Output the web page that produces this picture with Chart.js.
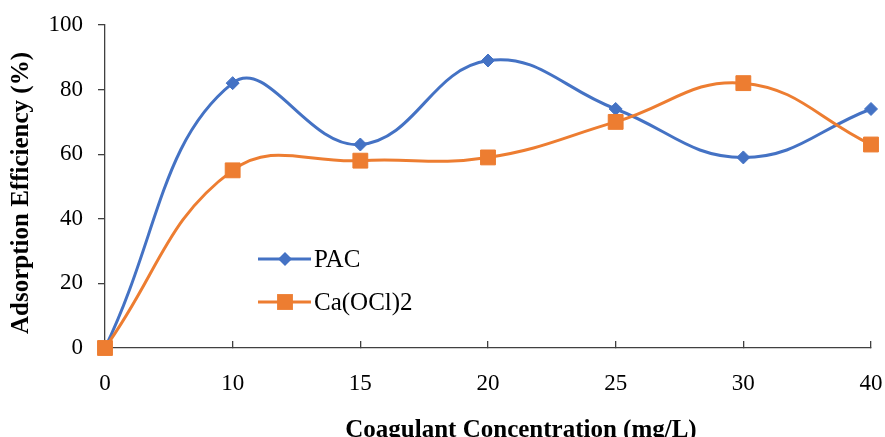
<!DOCTYPE html>
<html>
<head>
<meta charset="utf-8">
<script src="https://cdn.jsdelivr.net/npm/chart.js@4"></script>
<style>
  html, body { margin: 0; padding: 0; background: #fff; }
  #wrap { width: 885px; height: 437px; }
</style>
</head>
<body>
<div id="wrap"><canvas id="chart" width="885" height="437"></canvas></div>
<script>
// Coagulant dose (mg/L) and adsorption efficiency (%) of the two coagulants
const concentrations = ['0', '10', '15', '20', '25', '30', '40'];
const pacEfficiency = [0, 82, 63, 89, 74, 59, 74];
const caoclEfficiency = [0, 55, 58, 59, 70, 82, 63];
const yTicks = [0, 20, 40, 60, 80, 100];

const BLUE = '#4472C4';
const ORANGE = '#ED7D31';
const SERIF = '"Liberation Serif", "Times New Roman", serif';

// Axis titles and the in-plot legend
const annotations = {
  id: 'annotations',
  afterDraw(chart) {
    const ctx = chart.ctx;
    ctx.save();
    ctx.fillStyle = '#000';
    ctx.textAlign = 'center';
    ctx.textBaseline = 'middle';
    ctx.font = 'bold 25px ' + SERIF;
    ctx.fillText('Coagulant Concentration (mg/L)', 521, 431);
    ctx.save();
    ctx.translate(22, 193);
    ctx.rotate(-Math.PI / 2);
    ctx.fillText('Adsorption Efficiency (%)', 0, 0);
    ctx.restore();

    const items = [
      { ds: chart.data.datasets[0], y: 259 },
      { ds: chart.data.datasets[1], y: 302 }
    ];
    items.forEach(({ ds, y }) => {
      ctx.strokeStyle = ds.borderColor;
      ctx.lineWidth = 3;
      ctx.beginPath();
      ctx.moveTo(258, y);
      ctx.lineTo(311, y);
      ctx.stroke();
      ctx.fillStyle = ds.backgroundColor;
      ctx.beginPath();
      if (ds.pointStyle === 'rectRot') {
        const r = ds.pointRadius + 0.5;
        ctx.moveTo(285, y - r);
        ctx.lineTo(285 + r, y);
        ctx.lineTo(285, y + r);
        ctx.lineTo(285 - r, y);
        ctx.closePath();
      } else {
        const h = ds.pointRadius * Math.SQRT1_2 + 0.5;
        ctx.rect(285 - h, y - h, 2 * h, 2 * h);
      }
      ctx.fill();
      ctx.fillStyle = '#000';
      ctx.textAlign = 'left';
      ctx.font = '25px ' + SERIF;
      ctx.fillText(ds.label, 314, y + 1);
    });
    ctx.restore();
  }
};

new Chart(document.getElementById('chart'), {
  type: 'line',
  data: {
    labels: concentrations,
    datasets: [
      {
        label: 'PAC',
        data: pacEfficiency,
        borderColor: BLUE,
        backgroundColor: BLUE,
        borderWidth: 3,
        pointStyle: 'rectRot',
        pointRadius: 6.5,
        pointBorderWidth: 1,
        tension: 0.42,
        clip: false,
        order: 2
      },
      {
        label: 'Ca(OCl)2',
        data: caoclEfficiency,
        borderColor: ORANGE,
        backgroundColor: ORANGE,
        borderWidth: 3,
        pointStyle: 'rect',
        pointRadius: 10.5,
        pointBorderWidth: 1,
        tension: 0.42,
        clip: false,
        order: 1
      }
    ]
  },
  options: {
    responsive: false,
    animation: false,
    layout: { autoPadding: false, padding: { left: 0, right: 14, top: 25, bottom: 0 } },
    plugins: { legend: { display: false }, tooltip: { enabled: false } },
    scales: {
      x: {
        type: 'category',
        offset: false,
        afterFit(scale) { scale.height = 89; scale.paddingLeft = 0; scale.paddingRight = 0; },
        border: { display: true, color: '#404040', width: 1.3 },
        grid: { display: true, drawOnChartArea: false, drawTicks: true, tickLength: -7, color: '#404040', lineWidth: 1.3 },
        ticks: { color: '#000', font: { family: SERIF, size: 23 }, padding: 29, maxRotation: 0, autoSkip: false }
      },
      y: {
        min: 0,
        max: 100,
        afterFit(scale) { scale.width = 105; scale.paddingTop = 0; scale.paddingBottom = 0; },
        afterBuildTicks(scale) { scale.ticks = yTicks.map(v => ({ value: v })); },
        border: { display: true, color: '#404040', width: 1.3 },
        grid: { display: true, drawOnChartArea: false, drawTicks: true, tickLength: 7, color: '#404040', lineWidth: 1.3 },
        ticks: { color: '#000', font: { family: SERIF, size: 23 }, padding: 15 }
      }
    }
  },
  plugins: [annotations]
});
</script>
</body>
</html>
